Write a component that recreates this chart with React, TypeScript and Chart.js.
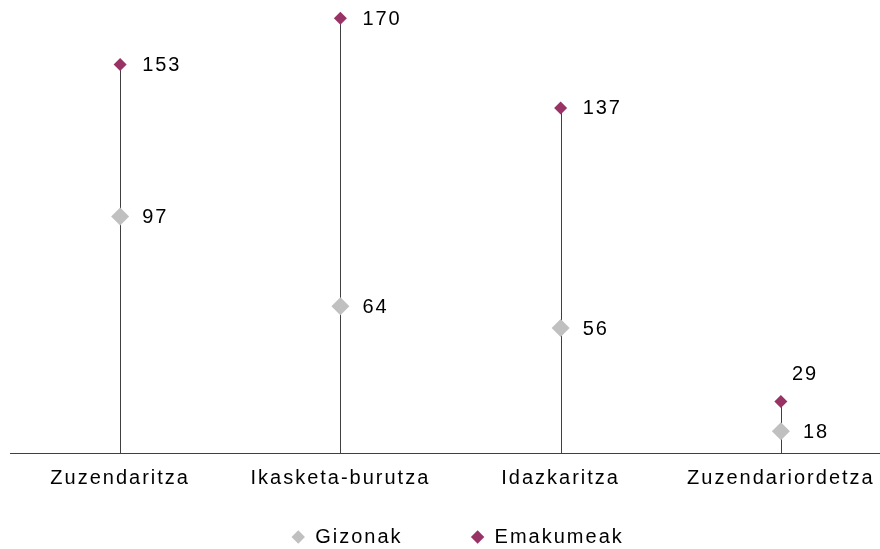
import React, { useEffect, useRef } from 'react';
import { Chart, registerables } from 'chart.js';

Chart.register(...registerables);

const categories = ['Zuzendaritza', 'Ikasketa-burutza', 'Idazkaritza', 'Zuzendariordetza'];
const gizonak = [97, 64, 56, 18];
const emakumeak = [153, 170, 137, 29];
const seriesNames = ['Gizonak', 'Emakumeak'];
const axisBase = 10;
const yMin = 7.8;
const yMax = 173.4;

const FONT = '"Liberation Sans", Arial, sans-serif';
const GRAY = '#C0C0C0';
const PLUM = '#993366';
const LINE = '#404040';

const spacingPlugin = {
  id: 'spacing',
  beforeUpdate(chart: any) {
    chart.ctx.letterSpacing = '2px';
  },
  beforeLayout(chart: any) {
    chart.ctx.letterSpacing = '2px';
  },
  beforeDraw(chart: any) {
    chart.ctx.letterSpacing = '2px';
  },
};

const dropLinePlugin = {
  id: 'dropLines',
  beforeDatasetsDraw(chart: any) {
    const xs = chart.scales.x;
    const ys = chart.scales.y;
    const ctx = chart.ctx;
    ctx.save();
    ctx.strokeStyle = LINE;
    ctx.lineWidth = 1;
    categories.forEach((_c, i) => {
      const top = Math.max(gizonak[i], emakumeak[i]);
      const px = Math.round(xs.getPixelForValue(i)) + 0.5;
      ctx.beginPath();
      ctx.moveTo(px, ys.getPixelForValue(axisBase));
      ctx.lineTo(px, ys.getPixelForValue(top));
      ctx.stroke();
    });
    ctx.restore();
  },
};

const valueLabelPlugin = {
  id: 'valueLabels',
  afterDatasetsDraw(chart: any) {
    const ctx = chart.ctx;
    ctx.save();
    ctx.font = `20px ${FONT}`;
    ctx.fillStyle = '#000';
    ctx.textAlign = 'left';
    ctx.textBaseline = 'middle';
    chart.data.datasets.forEach((ds: any, di: number) => {
      const meta = chart.getDatasetMeta(di);
      const otherMeta = chart.getDatasetMeta(1 - di);
      meta.data.forEach((pt: any, i: number) => {
        const other = otherMeta.data[i];
        const close = other && Math.abs(other.y - pt.y) < 40;
        const text = String(ds.data[i]);
        if (close && pt.y < other.y) {
          ctx.fillText(text, pt.x + 11, pt.y - 27);
        } else {
          ctx.fillText(text, pt.x + 22, pt.y + 1);
        }
      });
    });
    ctx.restore();
  },
};

export default function App() {
  const ref = useRef<HTMLCanvasElement | null>(null);

  useEffect(() => {
    if (!ref.current) return;
    const chart = new Chart(ref.current, {
      type: 'line',
      data: {
        labels: categories,
        datasets: [
          {
            label: seriesNames[0],
            data: gizonak,
            showLine: false,
            pointStyle: 'rectRot',
            pointRadius: 9,
            pointHoverRadius: 9,
            backgroundColor: GRAY,
            borderColor: GRAY,
            borderWidth: 0,
            clip: false,
          },
          {
            label: seriesNames[1],
            data: emakumeak,
            showLine: false,
            pointStyle: 'rectRot',
            pointRadius: 6.5,
            pointHoverRadius: 6.5,
            backgroundColor: PLUM,
            borderColor: PLUM,
            borderWidth: 0,
            clip: false,
          },
        ],
      },
      options: {
        responsive: false,
        animation: false,
        events: [],
        layout: { padding: { left: 10, right: 9, top: 0, bottom: 0 } },
        scales: {
          x: {
            type: 'category',
            offset: true,
            position: { y: axisBase } as any,
            grid: { display: false, drawTicks: false },
            border: { display: true, color: LINE, width: 1 },
            ticks: {
              font: { size: 20, family: FONT },
              color: '#000',
              padding: 13,
              maxRotation: 0,
              autoSkip: false,
            },
          },
          y: {
            display: false,
            min: yMin,
            max: yMax,
          },
          yRight: {
            type: 'linear',
            position: 'right',
            display: true,
            grid: { display: false, drawTicks: false },
            border: { display: false },
            ticks: { display: false },
            afterFit: (s: any) => {
              s.width = 14;
            },
          },
        },
        plugins: {
          legend: {
            position: 'bottom',
            labels: {
              usePointStyle: true,
              boxWidth: 14,
              boxHeight: 9.5,
              padding: 68,
              font: { size: 20, family: FONT },
              color: '#000',
            },
          },
          tooltip: { enabled: false },
        },
      },
      plugins: [spacingPlugin, dropLinePlugin, valueLabelPlugin],
    });
    return () => chart.destroy();
  }, []);

  return (
    <div
      style={{
        position: 'absolute',
        left: 0,
        top: 0,
        width: 880,
        height: 549,
        overflow: 'hidden',
        background: '#fff',
      }}
    >
      <canvas ref={ref} width={914} height={557} style={{ display: 'block' }} />
    </div>
  );
}
